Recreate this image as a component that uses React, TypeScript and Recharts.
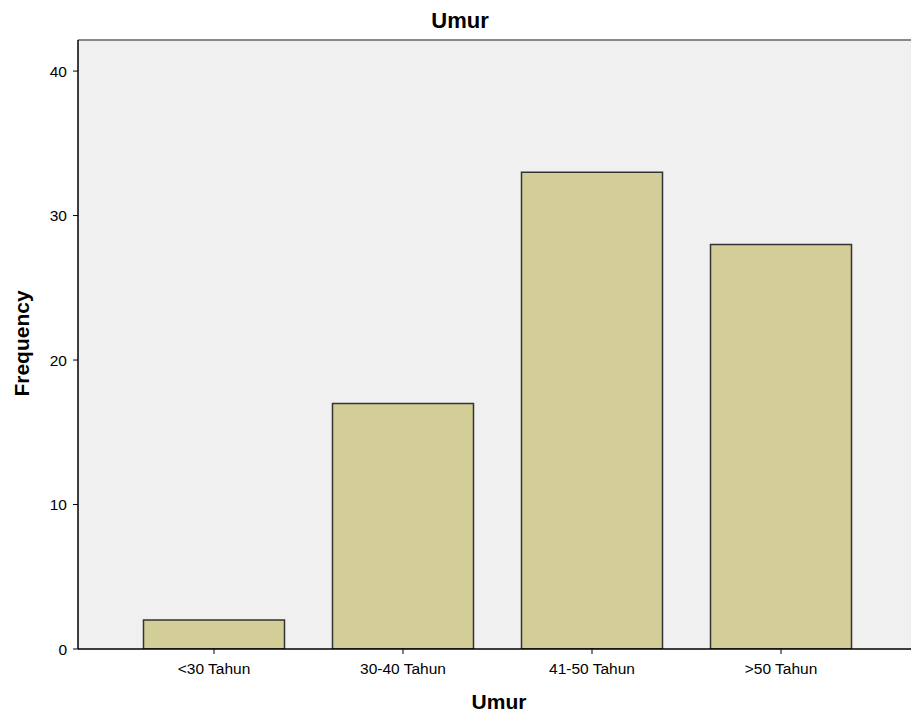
import React from 'react';
import { BarChart, Bar, XAxis, YAxis, CartesianGrid, ReferenceLine, Customized } from 'recharts';

const categories = ['<30 Tahun', '30-40 Tahun', '41-50 Tahun', '>50 Tahun'];
const frequencies = [2, 17, 33, 28];
const yTicks = [0, 10, 20, 30, 40];

const data = categories.map((c, i) => ({ name: c, value: frequencies[i] }));

const FONT = '"Liberation Sans", Arial, sans-serif';

const Texts = () => (
  <g>
    <text x={452} y={20} textAnchor="middle" fontFamily={FONT} fontWeight="bold" fontSize={22} fill="#000">Umur</text>
    <text x={491} y={701} textAnchor="middle" fontFamily={FONT} fontWeight="bold" fontSize={21} fill="#000">Umur</text>
    <text x={0} y={0} transform="translate(20.5,335.5) rotate(-90)" textAnchor="middle" fontFamily={FONT} fontWeight="bold" fontSize={21} fill="#000">Frequency</text>
  </g>
);

export default function App() {
  return (
    <>
      <style>{'html,body{margin:0;padding:0;overflow:hidden;}'}</style>
      <div style={{ paddingLeft: 8, paddingTop: 8, width: 903, height: 711 }}>
        <BarChart width={903} height={711} data={data} margin={{ top: 32, left: 0, right: 0, bottom: 0 }} barSize={141}>
          <CartesianGrid fill="#F0F0F0" horizontal={false} vertical={false} stroke="none" />
          <XAxis
            dataKey="name"
            height={70}
            padding={{ left: 41.5, right: 35.5 }}
            axisLine={{ stroke: '#000', strokeWidth: 1.5 }}
            tickLine={{ stroke: '#000' }}
            tickSize={5}
            tickMargin={9}
            tick={{ fill: '#000', fontSize: 15.5, fontFamily: FONT }}
            interval={0}
          />
          <YAxis
            width={70}
            domain={[0, 42.15]}
            ticks={yTicks}
            allowDataOverflow
            axisLine={{ stroke: '#000', strokeWidth: 1.5 }}
            tickLine={{ stroke: '#000' }}
            tickSize={5}
            tickMargin={6}
            tick={{ fill: '#000', fontSize: 15.5, fontFamily: FONT }}
          />
          <ReferenceLine y={42.15} stroke="#888" strokeWidth={2} ifOverflow="visible" />
          <Bar dataKey="value" fill="#D3CE97" stroke="#333" strokeWidth={1.5} isAnimationActive={false} />
          <Customized component={Texts} />
        </BarChart>
      </div>
    </>
  );
}
